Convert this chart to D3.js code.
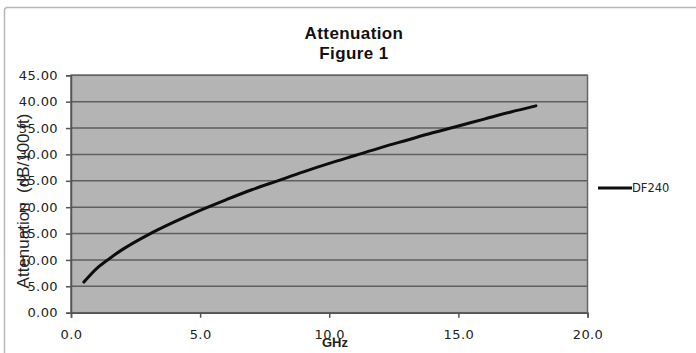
<!DOCTYPE html>
<html>
<head>
<meta charset="utf-8">
<script src="https://cdn.jsdelivr.net/npm/d3@7"></script>
<style>
  body { margin: 0; background: #fff; }
  svg { display: block; }
</style>
</head>
<body>
<svg id="chart" width="696" height="353"></svg>
<script>
// frequency in GHz, attenuation in dB/100 ft
const freq = [0.5, 1, 1.5, 2, 3, 4, 5, 6, 7, 8, 9, 10, 11, 12, 13, 14, 15, 16, 17, 18]
const atten = [5.8, 8.4, 10.3, 12.0, 14.8, 17.2, 19.4, 21.4, 23.3, 25.0, 26.7, 28.3, 29.8, 31.3, 32.7, 34.1, 35.4, 36.7, 38.0, 39.2]
const xTicks = [0, 5, 10, 15, 20]
const yTicks = [0, 5, 10, 15, 20, 25, 30, 35, 40, 45]
const seriesName = 'DF240'

const svg = d3.select('#chart')
const plotLeft = 71
const plotRight = 587.5
const plotTop = 75.3
const plotBottom = 312.7

// outer chart frame
svg.append('rect')
  .attr('x', 4.5).attr('y', 7.5)
  .attr('width', 700).attr('height', 360)
  .attr('rx', 3)
  .attr('fill', '#fff')
  .attr('stroke', '#b8b8b8')
  .attr('stroke-width', 1.5)

const x = d3.scaleLinear().domain([0, 20]).range([plotLeft, plotRight])
const y = d3.scaleLinear().domain([0, 45]).range([plotBottom, plotTop])

svg.append('rect')
  .attr('x', plotLeft).attr('y', plotTop)
  .attr('width', plotRight - plotLeft).attr('height', plotBottom - plotTop)
  .attr('fill', '#b4b4b4')

// gridlines
svg.append('g')
  .selectAll('line')
  .data(yTicks)
  .join('line')
  .attr('x1', plotLeft).attr('x2', plotRight)
  .attr('y1', d => y(d)).attr('y2', d => y(d))
  .attr('stroke', '#5f5f5f')
  .attr('stroke-width', 1.5)

svg.append('rect')
  .attr('x', plotLeft).attr('y', plotTop)
  .attr('width', plotRight - plotLeft).attr('height', plotBottom - plotTop)
  .attr('fill', 'none')
  .attr('stroke', '#666')
  .attr('stroke-width', 1.5)

const yAxis = d3.axisLeft(y).tickValues(yTicks).tickFormat(d3.format('.2f')).tickSize(5).tickPadding(8)
const xAxis = d3.axisBottom(x).tickValues(xTicks).tickFormat(d3.format('.1f')).tickSize(5).tickPadding(12)

const gy = svg.append('g').attr('transform', `translate(${plotLeft},0)`).call(yAxis)
const gx = svg.append('g').attr('transform', `translate(0,${plotBottom})`).call(xAxis)

for (const g of [gy, gx]) {
  g.select('.domain').attr('stroke', '#555').attr('stroke-width', 1.5)
  g.selectAll('.tick line').attr('stroke', '#555').attr('stroke-width', 1.5)
  g.selectAll('.tick text')
    .attr('fill', '#222')
    .style('font-family', '"DejaVu Sans", Verdana, sans-serif')
    .style('font-size', '13px')
    .style('letter-spacing', '0.4px')
}

// curve
const line = d3.line()
  .x((d, i) => x(freq[i]))
  .y(d => y(d))
  .curve(d3.curveCatmullRom.alpha(0.5))

svg.append('path')
  .attr('d', line(atten))
  .attr('fill', 'none')
  .attr('stroke', '#0d0d0d')
  .attr('stroke-width', 3)
  .attr('stroke-linecap', 'round')

// titles
const title = svg.append('text')
  .attr('text-anchor', 'middle')
  .attr('fill', '#111')
  .style('font-family', '"Liberation Sans", Arial, sans-serif')
  .style('font-weight', 'bold')
  .style('font-size', '17px')
  .style('letter-spacing', '0.4px')
title.append('tspan').attr('x', 354).attr('y', 39).text('Attenuation')
title.append('tspan').attr('x', 354).attr('y', 59).text('Figure 1')

svg.append('text')
  .attr('x', 335).attr('y', 347)
  .attr('text-anchor', 'middle')
  .attr('fill', '#222')
  .style('font-family', '"Liberation Sans", Arial, sans-serif')
  .style('font-weight', 'bold')
  .style('font-size', '13px')
  .text('GHz')

svg.append('text')
  .attr('transform', 'translate(29,201) rotate(-90)')
  .attr('text-anchor', 'middle')
  .attr('fill', '#222')
  .style('font-family', '"Liberation Sans", Arial, sans-serif')
  .style('font-size', '17px')
  .style('white-space', 'pre')
  .text('Attenuation  (dB/100 ft)')

// legend
const leg = svg.append('g').attr('transform', 'translate(598,188)')
leg.append('line')
  .attr('x1', 0).attr('x2', 34)
  .attr('stroke', '#0d0d0d')
  .attr('stroke-width', 3)
leg.append('text')
  .attr('x', 34).attr('dy', '0.36em')
  .attr('fill', '#222')
  .style('font-family', '"DejaVu Sans", Verdana, sans-serif')
  .style('font-size', '11.5px')
  .text(seriesName)
</script>
</body>
</html>
